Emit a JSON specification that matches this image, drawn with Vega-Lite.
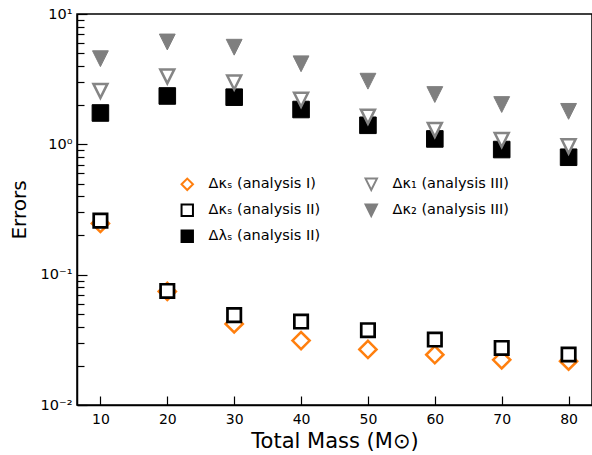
{
  "$schema": "https://vega.github.io/schema/vega-lite/v6.json",
  "width": 515,
  "height": 391,
  "autosize": "none",
  "padding": {"left": 77, "top": 14, "right": 0, "bottom": 50},
  "background": "white",
  "view": {"stroke": "black", "strokeWidth": 1.5},
  "config": {
    "font": "DejaVu Sans",
    "point": {"opacity": 1},
    "axis": {"grid": false, "domainColor": "black", "domainWidth": 1.5, "tickColor": "black", "tickWidth": 1.2, "labelColor": "black", "titleColor": "black", "titleFontWeight": "normal", "labelFontSize": 14}
  },
  "data": {"values": [
    {"series": "Δκₛ (analysis I)", "mass": 10, "err": 0.247},
    {"series": "Δκₛ (analysis I)", "mass": 20, "err": 0.0744},
    {"series": "Δκₛ (analysis I)", "mass": 30, "err": 0.0419},
    {"series": "Δκₛ (analysis I)", "mass": 40, "err": 0.0312},
    {"series": "Δκₛ (analysis I)", "mass": 50, "err": 0.0267},
    {"series": "Δκₛ (analysis I)", "mass": 60, "err": 0.0243},
    {"series": "Δκₛ (analysis I)", "mass": 70, "err": 0.0222},
    {"series": "Δκₛ (analysis I)", "mass": 80, "err": 0.0217},
    {"series": "Δκₛ (analysis II)", "mass": 10, "err": 0.26},
    {"series": "Δκₛ (analysis II)", "mass": 20, "err": 0.075},
    {"series": "Δκₛ (analysis II)", "mass": 30, "err": 0.0489},
    {"series": "Δκₛ (analysis II)", "mass": 40, "err": 0.0437},
    {"series": "Δκₛ (analysis II)", "mass": 50, "err": 0.0375},
    {"series": "Δκₛ (analysis II)", "mass": 60, "err": 0.0318},
    {"series": "Δκₛ (analysis II)", "mass": 70, "err": 0.0274},
    {"series": "Δκₛ (analysis II)", "mass": 80, "err": 0.0244},
    {"series": "Δλₛ (analysis II)", "mass": 10, "err": 1.74},
    {"series": "Δλₛ (analysis II)", "mass": 20, "err": 2.35},
    {"series": "Δλₛ (analysis II)", "mass": 30, "err": 2.3},
    {"series": "Δλₛ (analysis II)", "mass": 40, "err": 1.85},
    {"series": "Δλₛ (analysis II)", "mass": 50, "err": 1.4},
    {"series": "Δλₛ (analysis II)", "mass": 60, "err": 1.1},
    {"series": "Δλₛ (analysis II)", "mass": 70, "err": 0.912},
    {"series": "Δλₛ (analysis II)", "mass": 80, "err": 0.796},
    {"series": "Δκ₁ (analysis III)", "mass": 10, "err": 2.57},
    {"series": "Δκ₁ (analysis III)", "mass": 20, "err": 3.32},
    {"series": "Δκ₁ (analysis III)", "mass": 30, "err": 2.98},
    {"series": "Δκ₁ (analysis III)", "mass": 40, "err": 2.2},
    {"series": "Δκ₁ (analysis III)", "mass": 50, "err": 1.63},
    {"series": "Δκ₁ (analysis III)", "mass": 60, "err": 1.29},
    {"series": "Δκ₁ (analysis III)", "mass": 70, "err": 1.08},
    {"series": "Δκ₁ (analysis III)", "mass": 80, "err": 0.965},
    {"series": "Δκ₂ (analysis III)", "mass": 10, "err": 4.54},
    {"series": "Δκ₂ (analysis III)", "mass": 20, "err": 6.1},
    {"series": "Δκ₂ (analysis III)", "mass": 30, "err": 5.56},
    {"series": "Δκ₂ (analysis III)", "mass": 40, "err": 4.15},
    {"series": "Δκ₂ (analysis III)", "mass": 50, "err": 3.05},
    {"series": "Δκ₂ (analysis III)", "mass": 60, "err": 2.41},
    {"series": "Δκ₂ (analysis III)", "mass": 70, "err": 2.02},
    {"series": "Δκ₂ (analysis III)", "mass": 80, "err": 1.79}
  ]},
  "encoding": {
    "x": {
      "field": "mass", "type": "quantitative",
      "scale": {"domain": [6.5, 83.5], "nice": false, "zero": false},
      "axis": {"title": "Total Mass (M⊙)", "titleFontSize": 21, "values": [10, 20, 30, 40, 50, 60, 70, 80], "tickSize": -9, "labelPadding": 16, "titlePadding": 4, "labelFlush": false}
    },
    "y": {
      "field": "err", "type": "quantitative",
      "scale": {"type": "log", "domain": [0.01, 10], "nice": false},
      "axis": {
        "title": "Errors", "titleFontSize": 20, "titlePadding": 11,
        "values": [0.01, 0.02, 0.03, 0.04, 0.05, 0.06, 0.07, 0.08, 0.09, 0.1, 0.2, 0.3, 0.4, 0.5, 0.6, 0.7, 0.8, 0.9, 1, 2, 3, 4, 5, 6, 7, 8, 9, 10],
        "labelExpr": "abs(datum.value-10)<1e-6 ? '10¹' : abs(datum.value-1)<1e-6 ? '10⁰' : abs(datum.value-0.1)<1e-7 ? '10⁻¹' : abs(datum.value-0.01)<1e-8 ? '10⁻²' : ''",
        "labelOverlap": false,
        "labelFlush": false,
        "labelFontSize": 14.5,
        "tickSize": {"condition": {"test": "abs(log(datum.value)/LN10 - round(log(datum.value)/LN10)) < 0.001", "value": -10}, "value": -7},
        "labelPadding": 15
      }
    },
    "shape": {
      "field": "series", "type": "nominal",
      "scale": {"domain": ["Δκₛ (analysis I)", "Δκₛ (analysis II)", "Δλₛ (analysis II)", "Δκ₁ (analysis III)", "Δκ₂ (analysis III)"],
                "range": ["diamond", "square", "square", "M-1,-1L1,-1L0,1Z", "M-1,-1L1,-1L0,1Z"]},
      "legend": {"title": null, "orient": "none", "legendX": 103, "legendY": 163, "columns": 2, "columnPadding": 40, "rowPadding": 6, "labelFontSize": 14.5, "labelColor": "black", "symbolSize": 130, "symbolStrokeWidth": 2, "labelOffset": 14}
    },
    "fill": {
      "field": "series", "type": "nominal",
      "scale": {"domain": ["Δκₛ (analysis I)", "Δκₛ (analysis II)", "Δλₛ (analysis II)", "Δκ₁ (analysis III)", "Δκ₂ (analysis III)"],
                "range": ["white", "white", "black", "white", "#7f7f7f"]},
      "legend": {"title": null, "orient": "none", "legendX": 103, "legendY": 163, "columns": 2, "columnPadding": 40, "rowPadding": 6, "labelFontSize": 14.5, "labelColor": "black", "symbolSize": 130, "symbolStrokeWidth": 2, "labelOffset": 14}
    },
    "stroke": {
      "field": "series", "type": "nominal",
      "scale": {"domain": ["Δκₛ (analysis I)", "Δκₛ (analysis II)", "Δλₛ (analysis II)", "Δκ₁ (analysis III)", "Δκ₂ (analysis III)"],
                "range": ["#ff7f0e", "black", "black", "#858585", "#7f7f7f"]},
      "legend": {"title": null, "orient": "none", "legendX": 103, "legendY": 163, "columns": 2, "columnPadding": 40, "rowPadding": 6, "labelFontSize": 14.5, "labelColor": "black", "symbolSize": 130, "symbolStrokeWidth": 2, "labelOffset": 14}
    }
  },
  "layer": [
    {"transform": [{"filter": {"field": "series", "equal": "Δκₛ (analysis I)"}}], "mark": {"type": "point", "size": 296, "strokeWidth": 2.5, "opacity": 1}},
    {"transform": [{"filter": {"field": "series", "equal": "Δκₛ (analysis II)"}}], "mark": {"type": "point", "size": 180, "strokeWidth": 2.7, "opacity": 1}},
    {"transform": [{"filter": {"field": "series", "equal": "Δλₛ (analysis II)"}}], "mark": {"type": "point", "size": 275, "strokeWidth": 1, "opacity": 1}},
    {"transform": [{"filter": {"field": "series", "equal": "Δκ₁ (analysis III)"}}], "mark": {"type": "point", "size": 196, "strokeWidth": 2.5, "opacity": 1}},
    {"transform": [{"filter": {"field": "series", "equal": "Δκ₂ (analysis III)"}}], "mark": {"type": "point", "size": 250, "strokeWidth": 1, "opacity": 1}}
  ]
}
